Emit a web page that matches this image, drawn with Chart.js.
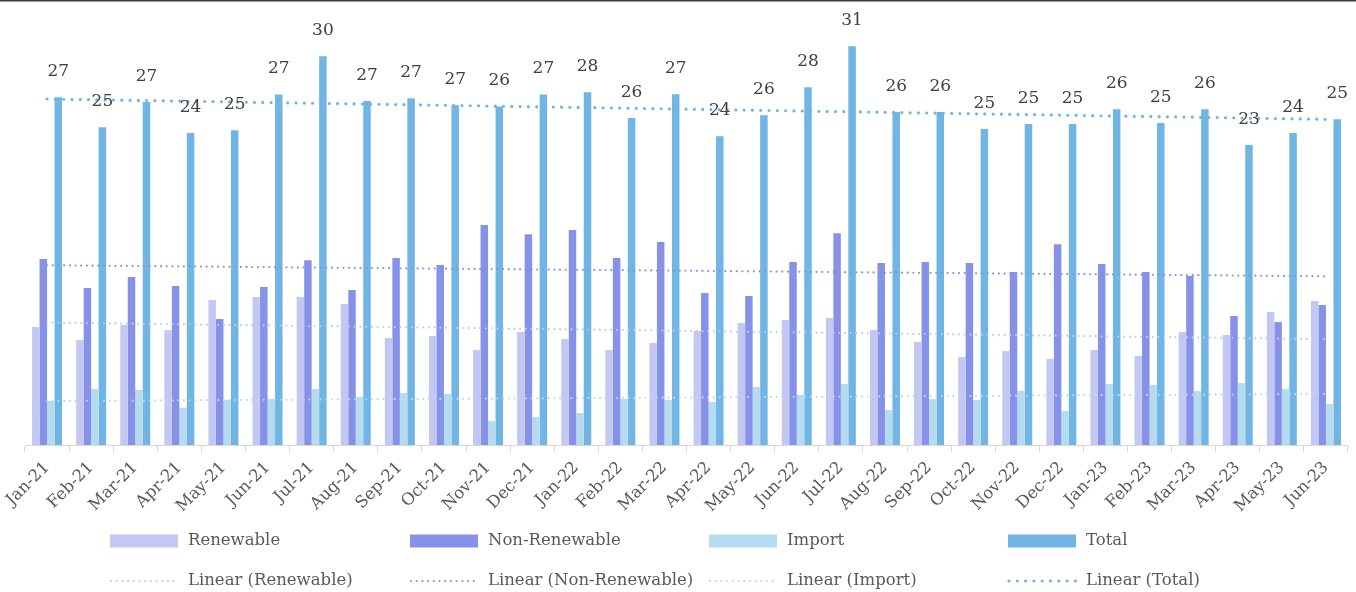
<!DOCTYPE html>
<html>
<head>
<meta charset="utf-8">
<title>Monthly energy supply</title>
<script src="https://cdn.jsdelivr.net/npm/chart.js@4.4.1/dist/chart.umd.min.js"></script>
<style>
  html, body { margin: 0; padding: 0; background: #ffffff; }
  #wrap { position: relative; width: 1356px; height: 592px; }
</style>
</head>
<body>
<div id="wrap"><canvas id="chart" width="1356" height="592"></canvas></div>
<script>
// Month labels along the category axis
const months = [
  'Jan-21','Feb-21','Mar-21','Apr-21','May-21','Jun-21','Jul-21','Aug-21','Sep-21','Oct-21','Nov-21','Dec-21',
  'Jan-22','Feb-22','Mar-22','Apr-22','May-22','Jun-22','Jul-22','Aug-22','Sep-22','Oct-22','Nov-22','Dec-22',
  'Jan-23','Feb-23','Mar-23','Apr-23','May-23','Jun-23'
];

// Supply by source for each month
const renewable = [
  9.22, 8.20, 9.38, 8.98, 11.33, 11.56, 11.56, 11.02, 8.36, 8.52, 7.42, 8.83,
  8.28, 7.42, 7.97, 8.91, 9.53, 9.77, 9.92, 8.98, 8.05, 6.88, 7.34, 6.72,
  7.42, 6.95, 8.83, 8.59, 10.39, 11.25
];
const nonRenewable = [
  14.53, 12.27, 13.13, 12.42, 9.84, 12.34, 14.45, 12.11, 14.61, 14.06, 17.19, 16.48,
  16.80, 14.61, 15.86, 11.88, 11.64, 14.30, 16.56, 14.22, 14.30, 14.22, 13.52, 15.70,
  14.14, 13.52, 13.20, 10.08, 9.61, 10.94
];
const imports = [
  3.44, 4.38, 4.30, 2.89, 3.52, 3.59, 4.38, 3.75, 4.06, 3.98, 1.88, 2.19,
  2.50, 3.59, 3.52, 3.36, 4.53, 3.91, 4.77, 2.73, 3.59, 3.52, 4.22, 2.66,
  4.77, 4.69, 4.22, 4.84, 4.38, 3.20
];
const total = [
  27.19, 24.84, 26.80, 24.38, 24.61, 27.40, 30.39, 26.88, 27.11, 26.56, 26.45, 27.40,
  27.58, 25.55, 27.42, 24.14, 25.78, 27.97, 31.17, 26.02, 26.02, 24.69, 25.08, 25.08,
  26.25, 25.16, 26.25, 23.44, 24.38, 25.47
];

// Series colours
const COLORS = {
  renewable: '#C2C7F3',
  nonRenewable: '#8592E8',
  imports: '#B4DBF0',
  total: '#70B5E3'
};

const FONT = '"DejaVu Serif", "Liberation Serif", serif';

// Least-squares straight line through a series (the "Linear" trendlines)
function linearFit(values) {
  const n = values.length;
  let sx = 0, sy = 0, sxx = 0, sxy = 0;
  values.forEach((y, i) => { sx += i; sy += y; sxx += i * i; sxy += i * y; });
  const slope = (n * sxy - sx * sy) / (n * sxx - sx * sx);
  const intercept = (sy - slope * sx) / n;
  return values.map((_, i) => intercept + slope * i);
}

function barSet(label, data, color) {
  return {
    type: 'bar', label, data,
    backgroundColor: color, borderWidth: 0,
    categoryPercentage: 0.68, barPercentage: 1.0,
    order: 1
  };
}

function trendSet(label, source, color, width, gap) {
  return {
    type: 'line', label, data: linearFit(source),
    borderColor: color, borderWidth: width,
    borderDash: [0, gap], borderCapStyle: 'round',
    pointRadius: 0, pointHoverRadius: 0, fill: false, tension: 0,
    order: 0
  };
}

// Value labels above the Total bars
const totalLabels = {
  id: 'totalLabels',
  afterDatasetsDraw(chart) {
    const meta = chart.getDatasetMeta(3);
    const ctx = chart.ctx;
    ctx.save();
    ctx.font = '17px ' + FONT;
    ctx.fillStyle = '#404040';
    ctx.textAlign = 'center';
    ctx.textBaseline = 'middle';
    meta.data.forEach((bar, i) => {
      ctx.fillText(total[i].toFixed(0), bar.x, bar.y - 26);
    });
    ctx.restore();
  }
};

// Four-column legend: bar swatches on the first row, trendlines on the second
const gridLegend = {
  id: 'gridLegend',
  afterDraw(chart) {
    const ctx = chart.ctx;
    const colX = [110, 410, 709, 1008];
    const swatchW = 68;
    const rowBar = 541, rowLine = 581;
    const entries = [
      { name: 'Renewable', color: COLORS.renewable, w: 2.2, gap: 5.7 },
      { name: 'Non-Renewable', color: COLORS.nonRenewable, w: 2.2, gap: 5.7 },
      { name: 'Import', color: COLORS.imports, w: 2.2, gap: 5.7 },
      { name: 'Total', color: COLORS.total, w: 3.2, gap: 8.3 }
    ];
    ctx.save();
    ctx.font = '16.5px ' + FONT;
    ctx.textBaseline = 'middle';
    entries.forEach((e, i) => {
      const x = colX[i];
      ctx.fillStyle = e.color;
      ctx.fillRect(x, rowBar - 6.5, swatchW, 13);
      ctx.beginPath();
      ctx.setLineDash([0, e.gap]);
      ctx.lineCap = 'round';
      ctx.lineWidth = e.w;
      ctx.strokeStyle = e.color;
      ctx.moveTo(x + 1, rowLine);
      ctx.lineTo(x + swatchW, rowLine);
      ctx.stroke();
      ctx.setLineDash([]);
      ctx.fillStyle = '#595959';
      ctx.fillText(e.name, x + 78, rowBar);
      ctx.fillText('Linear (' + e.name + ')', x + 78, rowLine);
    });
    // frame rule along the top edge
    ctx.fillStyle = '#3a3a3a';
    ctx.fillRect(0, 0, chart.width, 1.5);
    ctx.restore();
  }
};

new Chart(document.getElementById('chart'), {
  data: {
    labels: months,
    datasets: [
      barSet('Renewable', renewable, COLORS.renewable),
      barSet('Non-Renewable', nonRenewable, COLORS.nonRenewable),
      barSet('Import', imports, COLORS.imports),
      barSet('Total', total, COLORS.total),
      trendSet('Linear (Renewable)', renewable, COLORS.renewable, 2.2, 5.7),
      trendSet('Linear (Non-Renewable)', nonRenewable, COLORS.nonRenewable, 2.2, 5.7),
      trendSet('Linear (Import)', imports, COLORS.imports, 2.2, 5.7),
      trendSet('Linear (Total)', total, COLORS.total, 3.2, 8.3)
    ]
  },
  options: {
    responsive: false,
    animation: false,
    devicePixelRatio: 1,
    layout: { padding: { top: 10, left: 25, right: 8, bottom: 0 } },
    plugins: {
      legend: { display: false },
      tooltip: { enabled: false }
    },
    scales: {
      x: {
        offset: true,
        grid: { offset: true, drawOnChartArea: false, drawTicks: true, tickLength: 7, color: '#d9d9d9' },
        border: { color: '#d9d9d9', width: 1 },
        ticks: {
          autoSkip: false, minRotation: 45, maxRotation: 45,
          color: '#595959', font: { family: FONT, size: 16.5 }, padding: 6
        },
        afterFit(scale) { scale.height = 147; }
      },
      y: { display: false, min: 0, max: 34 }
    }
  },
  plugins: [totalLabels, gridLegend]
});
</script>
</body>
</html>
